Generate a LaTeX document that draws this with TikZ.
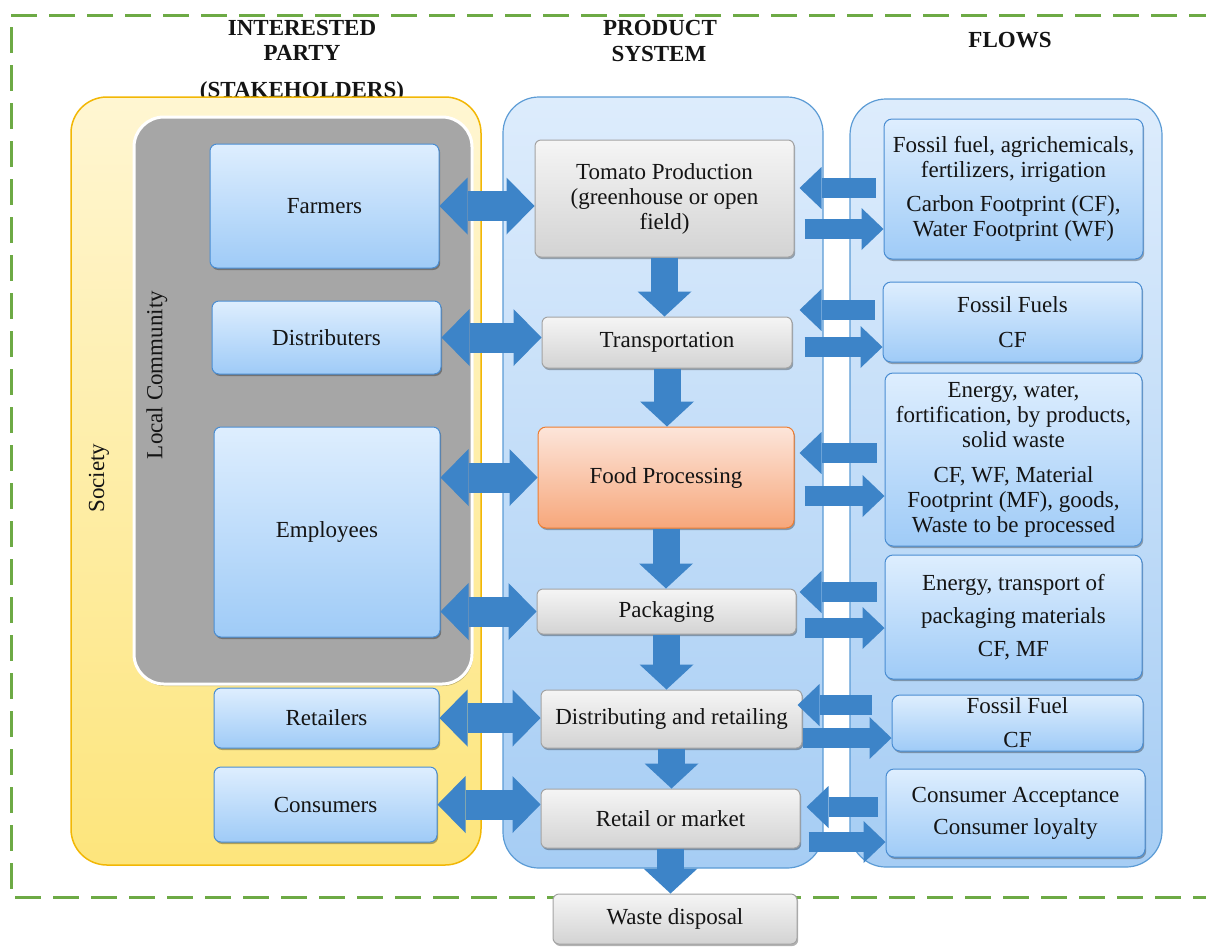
\documentclass[tikz,border=0pt]{standalone}
\usepackage{fontspec}
\setmainfont{Liberation Serif}
\usetikzlibrary{arrows.meta,shadows,calc}
\definecolor{framegreen}{HTML}{6DAA45}
\definecolor{socT}{HTML}{FFF6D2}
\definecolor{socB}{HTML}{FDE57C}
\definecolor{socD}{HTML}{F2B705}
\definecolor{grayfill}{HTML}{A6A6A6}
\definecolor{sysT}{HTML}{DDECFC}
\definecolor{sysB}{HTML}{A6CDF4}
\definecolor{sysD}{HTML}{5B9BD5}
\definecolor{boxT}{HTML}{DEEEFE}
\definecolor{boxB}{HTML}{9FCBF7}
\definecolor{boxD}{HTML}{4A8DD2}
\definecolor{prT}{HTML}{F5F5F5}
\definecolor{prB}{HTML}{D3D3D3}
\definecolor{prD}{HTML}{A3A3A3}
\definecolor{foodT}{HTML}{FCE5DA}
\definecolor{foodB}{HTML}{F7A77B}
\definecolor{foodD}{HTML}{ED7D31}
\definecolor{arrowc}{HTML}{3D84C8}
\definecolor{txt}{HTML}{141414}
\begin{document}
\begin{tikzpicture}[x=1pt,y=-1pt,
  font=\fontsize{23}{25}\selectfont, text=txt,
  shad/.style={drop shadow={shadow xshift=1.2pt,shadow yshift=-2pt,opacity=0.3,fill=black}},
  stake/.style={draw=boxD, line width=1pt, rounded corners=7pt, top color=boxT, bottom color=boxB, align=center, inner sep=2pt, shad},
  flowbox/.style={draw=boxD, line width=1pt, rounded corners=8pt, top color=boxT, bottom color=boxB, align=center, inner sep=2pt, shad},
  procbox/.style={draw=prD, line width=1pt, rounded corners=6pt, top color=prT, bottom color=prB, align=center, inner sep=2pt, shad},
  foodbox/.style={draw=foodD, line width=1pt, rounded corners=8pt, top color=foodT, bottom color=foodB, align=center, inner sep=2pt, shad},
  header/.style={font=\fontsize{23}{25}\selectfont\bfseries, anchor=base},
  dblarrow/.style={draw=arrowc, line width=30pt, {Triangle[length=28pt,width=57pt,line width=0pt]}-{Triangle[length=28pt,width=57pt,line width=0pt]}},
  downarrow/.style={draw=arrowc, line width=27pt, -{Triangle[length=25pt,width=54pt,line width=0pt]}},
  flowarrow/.style={draw=arrowc, line width=20pt, -{Triangle[length=22pt,width=42pt,line width=0pt]}}
]
\useasboundingbox (0,0) rectangle (1206,946);

% dashed frame
\draw[framegreen, line width=3pt, dash pattern=on 26pt off 12pt] (1215,15) -- (11,15) -- (11,897) -- (1215,897);

% headers
\node[header] (h1) at (302,35) {INTERESTED};
\node[header] (h2) at (302,60) {PARTY};
\node[header] (h3) at (302,97) {(STAKEHOLDERS)};
\node[header] (h4) at (660,35) {PRODUCT};
\node[header] (h5) at (659,61) {SYSTEM};
\node[header] (h6) at (1010,47) {FLOWS};

% containers
\draw[draw=socD, line width=1.5pt, rounded corners=36pt, top color=socT, bottom color=socB] (71,97) rectangle (481,865);
\draw[draw=white, line width=3pt, rounded corners=30pt, fill=grayfill, drop shadow={shadow xshift=1pt,shadow yshift=-2pt,opacity=0.25,fill=black}] (134,117) rectangle (472,684);
\draw[draw=sysD, line width=1.2pt, rounded corners=36pt, top color=sysT, bottom color=sysB] (503,97) rectangle (823,868);
\draw[draw=sysD, line width=1.2pt, rounded corners=36pt, top color=sysT, bottom color=sysB] (850,99) rectangle (1162,867);

\node[rotate=90] (society) at (99,478) {Society};
\node[rotate=90] (localc) at (157,375) {Local Community};

% stakeholders
\node[stake, minimum width=229pt, minimum height=124pt] (farmers) at (324.5,206) {Farmers};
\node[stake, minimum width=229pt, minimum height=73pt] (distributers) at (326.5,337.5) {Distributers};
\node[stake, minimum width=226pt, minimum height=210pt] (employees) at (327,532) {Employees};
\node[stake, minimum width=225pt, minimum height=60pt] (retailers) at (326.5,718) {Retailers};
\node[stake, minimum width=223pt, minimum height=75pt] (consumers) at (325.5,804.5) {Consumers};

% product system
\node[procbox, minimum width=259pt, minimum height=117pt] (tomato) at (664.5,198.5) {Tomato Production\\(greenhouse or open\\field)};
\node[procbox, minimum width=250pt, minimum height=51pt] (transport) at (667,342.5) {Transportation};
\node[foodbox, minimum width=256pt, minimum height=101pt] (food) at (666,477.5) {Food Processing};
\node[procbox, minimum width=259pt, minimum height=45pt] (packaging) at (666.5,611.5) {Packaging};
\node[procbox, minimum width=261pt, minimum height=58pt] (distret) at (671.5,719) {Distributing and retailing};
\node[procbox, minimum width=259pt, minimum height=59pt] (retail) at (670.5,818.5) {Retail or market};
\node[procbox, minimum width=244pt, minimum height=50pt] (waste) at (675,919) {Waste disposal};

% flows
\node[flowbox, minimum width=259pt, minimum height=140pt] (f1) at (1013.5,189) {Fossil fuel, agrichemicals,\\fertilizers, irrigation\\[9pt]Carbon Footprint (CF),\\Water Footprint (WF)};
\node[flowbox, minimum width=259pt, minimum height=80pt] (f2) at (1012.5,322) {Fossil Fuels\\[10pt]CF};
\node[flowbox, minimum width=257pt, minimum height=173pt] (f3) at (1013.5,459.5) {Energy, water,\\fortification, by products,\\solid waste\\[10pt]CF, WF, Material\\Footprint (MF), goods,\\Waste to be processed};
\node[flowbox, minimum width=257pt, minimum height=124pt] (f4) at (1013.5,617) {Energy, transport of\\[8pt]packaging materials\\[8pt]CF, MF};
\node[flowbox, minimum width=251pt, minimum height=56pt] (f5) at (1017.5,723) {Fossil Fuel\\[9pt]CF};
\node[flowbox, minimum width=259pt, minimum height=88pt] (f6) at (1015.5,813) {Consumer Acceptance\\[7pt]Consumer loyalty};

% double arrows stakeholders <-> product system
\draw[dblarrow] (farmers.east) -- (farmers.east -| tomato.west);
\draw[dblarrow] (distributers.east) -- (distributers.east -| transport.west);
\draw[dblarrow] (employees.east |- food.west) -- (food.west);
\draw[dblarrow] (employees.east |- packaging.west) -- (packaging.west);
\draw[dblarrow] (retailers.east) -- (retailers.east -| distret.west);
\draw[dblarrow] (consumers.east) -- (consumers.east -| retail.west);

% down arrows
\draw[downarrow] (tomato.south) -- (transport.north -| tomato.south);
\draw[downarrow] (transport.south) -- (food.north -| transport.south);
\draw[downarrow] (food.south) -- (packaging.north -| food.south);
\draw[downarrow] (packaging.south) -- (distret.north -| packaging.south);
\draw[downarrow] (distret.south) -- (retail.north -| distret.south);
\draw[downarrow] (retail.south) -- (waste.north -| retail.south);

% flow arrows
\draw[flowarrow] ($(f1.west)+(-8,-1)$) -- ($(f1.west -| tomato.east)+(5,-1)$);
\draw[flowarrow] ($(f1.west -| tomato.east)+(10,40)$) -- ($(f1.west)+(0,40)$);
\draw[flowarrow] ($(f2.west)+(-8,-12)$) -- ($(f2.west -| transport.east)+(7,-12)$);
\draw[flowarrow] ($(f2.west -| transport.east)+(12,25)$) -- ($(f2.west)+(0,25)$);
\draw[flowarrow] ($(f3.west)+(-8,-6.5)$) -- ($(f3.west -| food.east)+(5,-6.5)$);
\draw[flowarrow] ($(f3.west -| food.east)+(10,36.5)$) -- ($(f3.west)+(0,36.5)$);
\draw[flowarrow] ($(f4.west)+(-8,-25)$) -- ($(f4.west -| packaging.east)+(3,-25)$);
\draw[flowarrow] ($(f4.west -| packaging.east)+(8,11)$) -- ($(f4.west)+(0,11)$);
\draw[flowarrow] ($(f5.west)+(-20,-18)$) -- ($(f5.west -| distret.east)+(-5,-18)$);
\draw[flowarrow] ($(f5.west -| distret.east)+(0,15)$) -- ($(f5.west)+(0,15)$);
\draw[flowarrow] ($(f6.west)+(-8,-6)$) -- ($(f6.west -| retail.east)+(6,-6)$);
\draw[flowarrow] ($(f6.west -| retail.east)+(8,29)$) -- ($(f6.west)+(0,29)$);
\end{tikzpicture}
\end{document}
